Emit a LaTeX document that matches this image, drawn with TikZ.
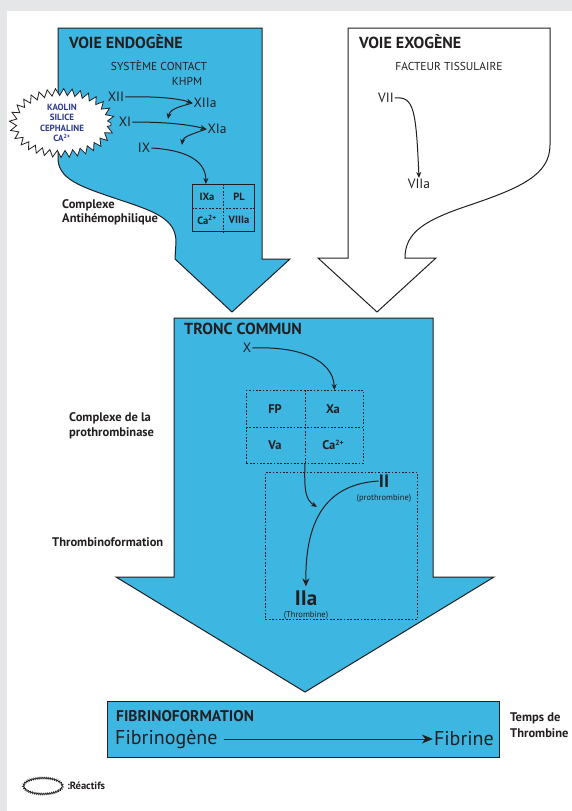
\documentclass[tikz,border=0pt]{standalone}
\usepackage{fontspec}
\setmainfont{PT Sans}
\usetikzlibrary{arrows.meta}
\usetikzlibrary{positioning, calc}
\usetikzlibrary{shapes.geometric}
\usetikzlibrary{decorations.pathmorphing}
\definecolor{bleu}{RGB}{62,182,226}
\definecolor{contour}{RGB}{35,31,32}
\definecolor{fond}{RGB}{229,230,232}
\definecolor{encre}{RGB}{46,58,146}
\newcommand{\cellule}[4]{
    % #1 = nom
    % #2 = position
    % #3 = taille
    % #4 = texte
    \node[inner sep=0pt, font=\bfseries\fontsize{#3}{#3}\selectfont] (#1) at (#2) {#4};
}
\newcommand{\charge}{\raisebox{0.38em}{\fontsize{7.5}{7.5}\selectfont 2+}}

\begin{document}
\begin{tikzpicture}[x=1pt, y=-1pt, contour,
    grossefleche/.style={draw=contour, line width=1pt, line join=miter},
    reaction/.style={draw=contour, line width=1pt, -{Stealth[length=6pt,width=5pt]}},
    pointille/.style={draw=contour, line width=0.9pt, dash pattern=on 1.7pt off 1.7pt},
    titre/.style={font=\bfseries\fontsize{16}{18}\selectfont, inner sep=0pt},
    soustitre/.style={font=\fontsize{11.5}{13}\selectfont, inner sep=0pt},
    facteur/.style={font=\fontsize{13.5}{15}\selectfont, inner sep=1pt},
    legende/.style={font=\bfseries\fontsize{12.5}{14.5}\selectfont, align=left, inner sep=0pt},
    petit/.style={font=\fontsize{8.5}{9}\selectfont, inner sep=0pt}]

    \useasboundingbox[fill=fond] (0,0) rectangle (572,811);

    \fill[white] (7,11) rectangle (572,811);

    % les trois grosses fleches
    \draw[grossefleche, fill=bleu] (58,28) -- (262,28) -- (262,259) -- (290,259) -- (232,312) -- (175,259) -- (176,242) .. controls (176,222) and (160,214) .. (135,205) .. controls (85,188) and (60,182) .. (58,160) -- cycle;

    \draw[grossefleche, fill=white] (348,28) -- (550,28) -- (550,145) .. controls (550,175) and (520,188) .. (470,205) .. controls (425,220) and (405,232) .. (405,258) -- (436,258) -- (377,312) -- (318,258) -- (348,258) -- cycle;

    \draw[grossefleche, fill=bleu] (174,318) -- (433,318) -- (433,577) -- (494,577) -- (305,692) -- (116,577) -- (174,577) -- cycle;

    %
    %
    %

    \node[titre, anchor=west] (endogene) at (69,42) {VOIE ENDOGÈNE};

    \node[soustitre] (contact) at (159,66) {SYSTÈME CONTACT};

    \node[soustitre] (khpm) at (187,81) {KHPM};

    \node[facteur] (xii) at (116,97) {XII};

    \node[facteur] (xiia) at (205,103) {XIIa};

    \node[facteur] (xi) at (125,122) {XI};

    \node[facteur] (xia) at (217,129) {XIa};

    \node[facteur] (ix) at (144,148) {IX};

    \coordinate (versxi) at (168,119);

    \coordinate (versix) at (182,145);

    \draw[reaction] (xii.east) .. controls (160,96) and (180,99) .. (xiia.west);

    \draw[reaction] (xiia.west) .. controls (183,106) and (170,108) .. (versxi);

    \draw[reaction] (xi.east) .. controls (170,122) and (190,125) .. (xia.west);

    \draw[reaction] (xia.west) .. controls (196,133) and (183,136) .. (versix);

    \node[draw=contour, line width=1pt, minimum width=62, minimum height=47, anchor=north west, inner sep=0pt] (antihemo) at (192,184) {};

    \draw[pointille] (antihemo.north) -- (antihemo.south);

    \draw[pointille] (antihemo.west) -- (antihemo.east);

    \coordinate (entreeixa) at ($(antihemo.north west)!0.22!(antihemo.north east)$);

    \draw[reaction] (ix.east) .. controls (185,150) and (206,160) .. (entreeixa);

    \cellule{ixa}{207,197}{10.5}{IXa}

    \cellule{pl}{239,197}{10.5}{PL}

    \cellule{caix}{207,220}{10.5}{Ca\textsuperscript{2+}}

    \cellule{viiia}{239,220}{10.5}{VIIIa}

    \node[legende, anchor=north west] (antihemotxt) at (62,199) {Complexe\\Antihémophilique};

    \node[ellipse, draw=contour, fill=white, line width=0.8pt, decorate, decoration={zigzag, segment length=8pt, amplitude=3.5pt}, minimum width=98, minimum height=62, inner sep=0pt, text=encre, align=center, font=\bfseries\fontsize{9}{10.5}\selectfont] (reactifs) at (62,123) {KAOLIN\\SILICE\\CEPHALINE\\CA\textsuperscript{2+}};

    %
    %
    %

    \node[titre, anchor=west] (exogene) at (359,42) {VOIE EXOGÈNE};

    \node[soustitre] (tissulaire) at (449,66) {FACTEUR TISSULAIRE};

    \node[facteur] (vii) at (386,98) {VII};

    \node[facteur] (viia) at (419,184) {VIIa};

    \draw[reaction] (vii.east) .. controls (414,96) and (416,110) .. (viia.north);

    %
    %
    %

    \node[titre, anchor=west] (tronc) at (184,329) {TRONC COMMUN};

    \node[facteur] (x) at (247,348) {X};

    \node[pointille, minimum width=117, minimum height=73, anchor=north west, inner sep=0pt] (prothromb) at (246,390) {};

    \draw[pointille] (prothromb.north) -- (prothromb.south);

    \draw[pointille] (prothromb.west) -- (prothromb.east);

    \cellule{fp}{275,409}{12.5}{FP}

    \cellule{xa}{333,409}{12.5}{Xa}

    \cellule{va}{275,445}{12.5}{Va}

    \cellule{caii}{333,445}{12.5}{Ca\charge}

    \coordinate (entreexa) at ($(prothromb.north west)!0.75!(prothromb.north east)$);

    \draw[reaction] (x.east) .. controls (300,346) and (333,360) .. (entreexa);

    \node[pointille, minimum width=152, minimum height=147, anchor=north west, inner sep=0pt] (thrombo) at (265,472) {};

    \node[font=\bfseries\fontsize{18}{18}\selectfont, inner sep=0pt] (ii) at (384,481) {II};

    \node[petit] (prothrombine) at (384,498) {(prothrombine)};

    \node[font=\bfseries\fontsize{21}{21}\selectfont, inner sep=0pt] (iia) at (306,598) {IIa};

    \node[petit] (thrombine) at (306,615) {(Thrombine)};

    \coordinate (versii) at (317,507);

    \draw[reaction] (prothromb.south) .. controls (304,492) and (306,500) .. (versii);

    \draw[reaction, shorten >=4pt, -{Stealth[length=8pt,width=7pt]}] (ii.west) .. controls (330,484) and (305,515) .. (iia.north);

    \node[legende, anchor=west] (prothrombtxt) at (69,426) {Complexe de la\\prothrombinase};

    \node[legende, anchor=west] (thrombotxt) at (52,542) {Thrombinoformation};

    %
    %
    %

    \node[draw=contour, line width=1pt, fill=bleu, minimum width=392, minimum height=56, anchor=north west, inner sep=0pt] (fibrino) at (107,701) {};

    \node[font=\bfseries\fontsize{15.5}{17}\selectfont, anchor=west, inner sep=0pt] (fibrinoformation) at (116,716) {FIBRINOFORMATION};

    \node[font=\fontsize{20}{22}\selectfont, anchor=west, inner sep=1pt] (fibrinogene) at (114,739) {Fibrinogène};

    \node[font=\fontsize{20}{22}\selectfont, anchor=east, inner sep=1pt] (fibrine) at (495,739) {Fibrine};

    \draw[line width=0.9pt, shorten <=5pt, -{Stealth[length=11pt,width=9pt]}] (fibrinogene.east) -- (fibrine.west);

    \node[legende, anchor=west, font=\bfseries\fontsize{12.5}{15.5}\selectfont] (temps) at (510,725) {Temps de\\Thrombine};

    \node[ellipse, draw=contour, line width=0.7pt, decorate, decoration={zigzag, segment length=2pt, amplitude=0.9pt}, minimum width=39, minimum height=16, inner sep=0pt] (symbole) at (43,786) {};

    \node[font=\bfseries\fontsize{10.5}{12}\selectfont, right=4pt of symbole, inner sep=0pt] (reactifstxt) {:Réactifs};

\end{tikzpicture}
\end{document}
